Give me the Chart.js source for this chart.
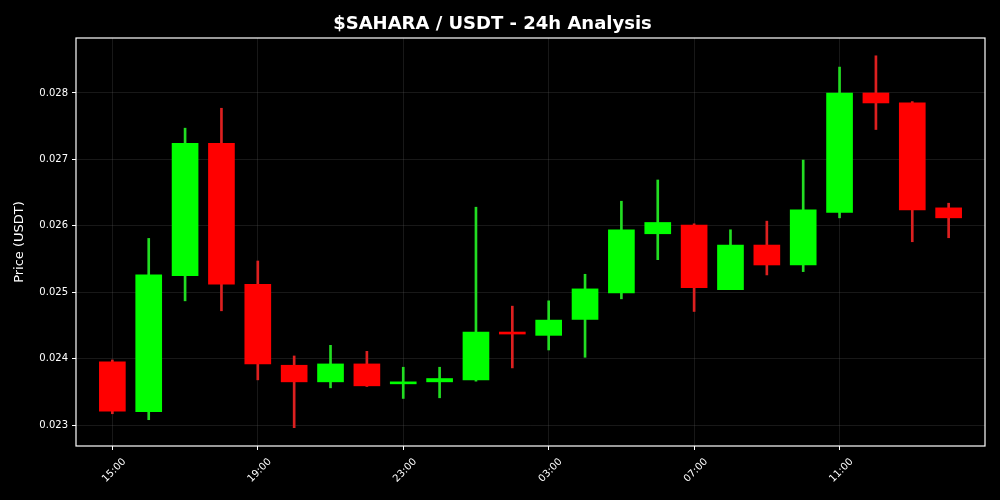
<!DOCTYPE html>
<html>
<head>
<meta charset="utf-8">
<script src="https://cdn.jsdelivr.net/npm/chart.js@4/dist/chart.umd.min.js"></script>
<style>
  html, body { margin: 0; padding: 0; background: #000; }
  canvas { display: block; }
</style>
</head>
<body>
<canvas id="c" width="1000" height="500"></canvas>
<script>
const times = ['15:00','16:00','17:00','18:00','19:00','20:00','21:00','22:00','23:00','00:00','01:00','02:00',
               '03:00','04:00','05:00','06:00','07:00','08:00','09:00','10:00','11:00','12:00','13:00','14:00'];
const openP  = [0.02395,0.02320,0.02525,0.02724,0.02512,0.02390,0.02365,0.02392,0.02362,0.02365,0.02368,0.02439,
                0.02435,0.02459,0.02499,0.02588,0.02601,0.02504,0.02571,0.02541,0.02620,0.02800,0.02785,0.02627];
const highP  = [0.02398,0.02581,0.02747,0.02777,0.02547,0.02404,0.02420,0.02411,0.02387,0.02387,0.02628,0.02479,
                0.02487,0.02527,0.02637,0.02669,0.02603,0.02594,0.02607,0.02699,0.02839,0.02856,0.02787,0.02634];
const lowP   = [0.02317,0.02308,0.02487,0.02472,0.02368,0.02296,0.02356,0.02358,0.02340,0.02341,0.02366,0.02386,
                0.02413,0.02402,0.02490,0.02549,0.02471,0.02504,0.02526,0.02531,0.02612,0.02745,0.02576,0.02582];
const closeP = [0.02321,0.02526,0.02724,0.02512,0.02392,0.02365,0.02392,0.02359,0.02365,0.02370,0.02440,0.02437,
                0.02458,0.02505,0.02594,0.02605,0.02507,0.02571,0.02541,0.02624,0.02800,0.02785,0.02624,0.02612];
const xTickIdx = [0,4,8,12,16,20];
const yTicks = [0.023,0.024,0.025,0.026,0.027,0.028];

const up = closeP.map((c,i)=>c>=openP[i]);
const bodyColors = up.map(u=>u?'#00ff00':'#ff0000');
const wickColors = up.map(u=>u?'#22dd22':'#dd2020');

const bodies = openP.map((o,i)=>({x:i, y:[o, closeP[i]]}));
const wicks = lowP.map((l,i)=>({x:i, y:[l, highP[i]]}));

const borderPlugin = {
  id: 'plotBorder',
  afterDraw(chart) {
    const a = chart.chartArea, ctx = chart.ctx;
    ctx.save();
    ctx.strokeStyle = '#ffffff';
    ctx.lineWidth = 1.2;
    ctx.strokeRect(a.left, a.top, a.right - a.left, a.bottom - a.top);
    ctx.restore();
  }
};

const FONT = "'DejaVu Sans', sans-serif";

new Chart(document.getElementById('c'), {
  type: 'bar',
  data: {
    datasets: [
      { label: 'wick', data: wicks, backgroundColor: wickColors, barThickness: 2, order: 2, grouped: false, borderWidth: 0 },
      { label: 'body', data: bodies, backgroundColor: bodyColors, barThickness: 26, order: 1, grouped: false, borderWidth: 0, minBarLength: 2 }
    ]
  },
  options: {
    responsive: false,
    animation: false,
    layout: { padding: { left: 0, right: 15, top: 0, bottom: 0 } },
    plugins: {
      legend: { display: false },
      tooltip: { enabled: false },
      title: {
        display: true,
        text: '$SAHARA / USDT - 24h Analysis',
        color: '#ffffff',
        font: { family: FONT, size: 18, weight: 'bold' },
        padding: { top: 14, bottom: 2.4 }
      }
    },
    scales: {
      x: {
        type: 'linear',
        min: -1,
        max: 24,
        offset: false,
        afterBuildTicks(scale) { scale.ticks = xTickIdx.map(v=>({value:v})); },
        afterFit(scale) { scale.height = 54; },
        ticks: {
          color: '#ffffff',
          font: { family: FONT, size: 10 },
          minRotation: 45, maxRotation: 45,
          autoSkip: false,
          labelOffset: 12,
          padding: 6,
          callback: (v) => times[v]
        },
        grid: { offset: false, color: 'rgba(110,110,110,0.22)', tickColor: '#ffffff', tickLength: 4, drawOnChartArea: true },
        border: { display: false }
      },
      y: {
        type: 'linear',
        min: 0.022684,
        max: 0.028828,
        afterBuildTicks(scale) { scale.ticks = yTicks.map(v=>({value:v})); },
        afterFit(scale) { scale.width = 76; },
        ticks: {
          color: '#ffffff',
          font: { family: FONT, size: 10 },
          padding: 4,
          callback: (v) => v.toFixed(3)
        },
        title: {
          display: true,
          text: 'Price (USDT)',
          color: '#ffffff',
          font: { family: FONT, size: 13 },
          padding: { top: 12, bottom: 0 }
        },
        grid: { color: 'rgba(110,110,110,0.22)', tickColor: '#ffffff', tickLength: 4 },
        border: { display: false }
      }
    }
  },
  plugins: [borderPlugin]
});
</script>
</body>
</html>
